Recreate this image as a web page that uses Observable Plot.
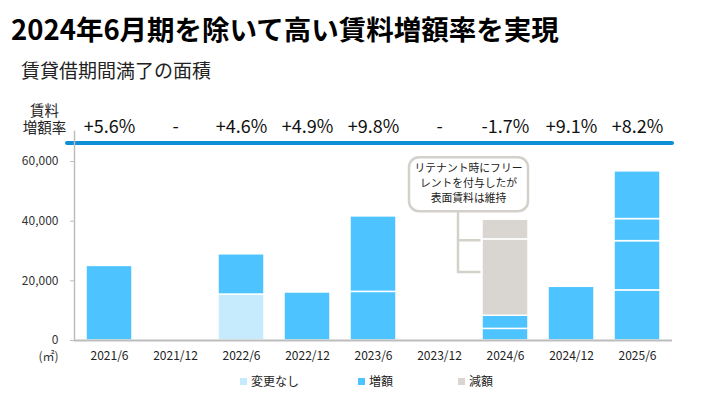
<!DOCTYPE html>
<html>
<head>
<meta charset="utf-8">
<script src="https://cdn.jsdelivr.net/npm/d3@7"></script>
<script src="https://cdn.jsdelivr.net/npm/@observablehq/plot@0.6"></script>
<style>
  html, body { margin: 0; padding: 0; background: #fff; }
  body { font-family: "Noto Sans CJK JP", "Noto Sans", sans-serif; color: #111; }
  #wrap { position: relative; width: 718px; height: 393px; overflow: hidden; }
  #title { position: absolute; left: 11px; top: 15px; font-size: 27.5px; line-height: 1; font-weight: 700; white-space: nowrap; color: #000; }
  #subtitle { position: absolute; left: 21px; top: 60px; font-size: 19px; line-height: 1; white-space: nowrap; color: #222; }
  #legend { position: absolute; left: 0; top: 374px; width: 718px; height: 14px; font-size: 12px; line-height: 14px; color: #222; }
  .lg { position: absolute; top: 0; white-space: nowrap; }
  .sw { display: inline-block; width: 7px; height: 7px; margin-right: 4px; vertical-align: 1px; }
  #chart { position: absolute; left: 0; top: 0; }
</style>
</head>
<body>
<div id="wrap">
  <div id="chart"></div>
  <div id="title">2024年6月期を除いて高い賃料増額率を実現</div>
  <div id="subtitle">賃貸借期間満了の面積</div>
  <div id="legend"></div>
</div>
<script>
// ---- data ----
const periods = ["2021/6","2021/12","2022/6","2022/12","2023/6","2023/12","2024/6","2024/12","2025/6"];
const rates   = ["+5.6%","-","+4.6%","+4.9%","+9.8%","-","-1.7%","+9.1%","+8.2%"];
const types   = ["変更なし","増額","減額"];
const typeColors = ["#C6EBFC","#4DC4FF","#D9D6D1"];
const segPeriod = ["2021/6","2022/6","2022/6","2022/12","2023/6","2023/6","2024/6","2024/6","2024/6","2024/6","2024/12","2025/6","2025/6","2025/6","2025/6"];
const segType   = ["増額","変更なし","増額","増額","増額","増額","増額","増額","減額","減額","増額","増額","増額","増額","増額"];
const segValue  = [25000,15400,13500,16100,16300,25300,3900,4400,25600,6600,18000,16800,16500,7400,16000];
const yTicks = [0,20000,40000,60000];
const rateLabel = ["賃料", "増額率"];
const calloutLines = ["リテナント時にフリー","レントを付与したが","表面賃料は維持"];
const calloutPeriod = "2024/6";

const segs = segValue.map((v, i) => ({period: segPeriod[i], type: segType[i], value: v}));
const rateRows = periods.map((p, i) => ({period: p, rate: rates[i]}));

// layout
const W = 718, H = 393, mL = 74, mR = 46, mT = 131, mB = 53;
const y60px = 179; // pixel height of 60,000
const yMax = 60000 * (H - mB - mT) / y60px;

const font = "'Noto Sans CJK JP', 'Noto Sans', sans-serif";
const grey = "#BDBDBD";

const plot = Plot.plot({
  width: W, height: H,
  marginLeft: mL, marginRight: mR, marginTop: mT, marginBottom: mB,
  style: {fontFamily: font, background: "transparent", color: "#333", overflow: "visible"},
  x: {type: "band", domain: periods, paddingInner: 0.31, paddingOuter: 0.155, label: null},
  y: {domain: [0, yMax], label: null},
  color: {domain: types, range: typeColors},
  marks: [
    Plot.ruleY([yMax], {dy: 11.5, insetLeft: -7, stroke: "#0C8FD7", strokeWidth: 4, strokeLinecap: "round"}),
    Plot.barY(segs, {x: "period", y: "value", fill: "type", stroke: "white", strokeWidth: 1.5}),
    Plot.axisY({ticks: yTicks, tickFormat: d3.format(","), tickSize: 4, tickPadding: 12, fontSize: 12, stroke: grey, fill: "#333"}),
    Plot.axisX({tickSize: 0, tickPadding: 11, fontSize: 12, fill: "#222"}),
    Plot.frame({anchor: "left", stroke: grey, strokeWidth: 1.5}),
    Plot.ruleY([0], {stroke: grey, strokeWidth: 2}),
    Plot.text(rateRows, {x: "period", text: "rate", frameAnchor: "top", lineAnchor: "middle", dy: -4, fontSize: 18, fill: "#111"}),
    Plot.text([rateLabel[0]], {frameAnchor: "top-left", textAnchor: "middle", lineAnchor: "middle", dx: -30, dy: -20, fontSize: 14.5, fill: "#222"}),
    Plot.text([rateLabel[1]], {frameAnchor: "top-left", textAnchor: "middle", lineAnchor: "middle", dx: -30, dy: -3, fontSize: 14.5, fill: "#222"}),
    Plot.text(["(㎡)"], {frameAnchor: "bottom-left", textAnchor: "middle", lineAnchor: "middle", dx: -26, dy: 17, fontSize: 12, fill: "#333"})
  ]
});
document.getElementById("chart").appendChild(plot);

// callout annotation anchored on the 2024/6 bar
const xs = plot.scale("x"), ys = plot.scale("y");
const bx = xs.apply(calloutPeriod);
const total = d3.sum(segs.filter(d => d.period === calloutPeriod), d => d.value);
const barTop = ys.apply(total);
const boxBottom = barTop - 8, boxTop = boxBottom - 54;
const boxLeft = bx - 73, boxW = 119;
const lineX = bx - 24;
const svg = d3.select(plot);
const g = svg.append("g");
const calloutGrey = "#D4D1CB";
const decSeg = segs.filter(d => d.period === calloutPeriod);
let cum = 0; const bounds = decSeg.map(d => (cum += d.value));
const p1 = ys.apply(bounds[2]) + 1.5;       // top boundary of lower 減額 segment
const p2 = (ys.apply(bounds[2]) + ys.apply(bounds[1])) / 2 - 5;
g.append("path")
  .attr("d", `M${lineX},${boxBottom}V${p2}H${bx - 1.5}M${lineX},${p1}H${bx - 1.5}`)
  .attr("fill", "none").attr("stroke", calloutGrey).attr("stroke-width", 2.5);
g.append("rect")
  .attr("x", boxLeft).attr("y", boxTop).attr("width", boxW).attr("height", boxBottom - boxTop)
  .attr("rx", 10).attr("fill", "white").attr("stroke", calloutGrey).attr("stroke-width", 2.5);
g.selectAll("text.c").data(calloutLines).join("text")
  .attr("x", boxLeft + boxW / 2).attr("y", (d, i) => boxTop + 11.5 + i * 15)
  .attr("dy", "0.35em").attr("text-anchor", "middle")
  .attr("font-size", 10.8).attr("font-family", font).attr("fill", "#222")
  .text(d => d);

// legend
const legendX = [240, 358, 458];
const lg = document.getElementById("legend");
types.forEach((t, i) => {
  const s = document.createElement("span");
  s.className = "lg";
  s.style.left = legendX[i] + "px";
  s.innerHTML = `<span class="sw" style="background:${typeColors[i]}"></span>${t}`;
  lg.appendChild(s);
});
</script>
</body>
</html>
